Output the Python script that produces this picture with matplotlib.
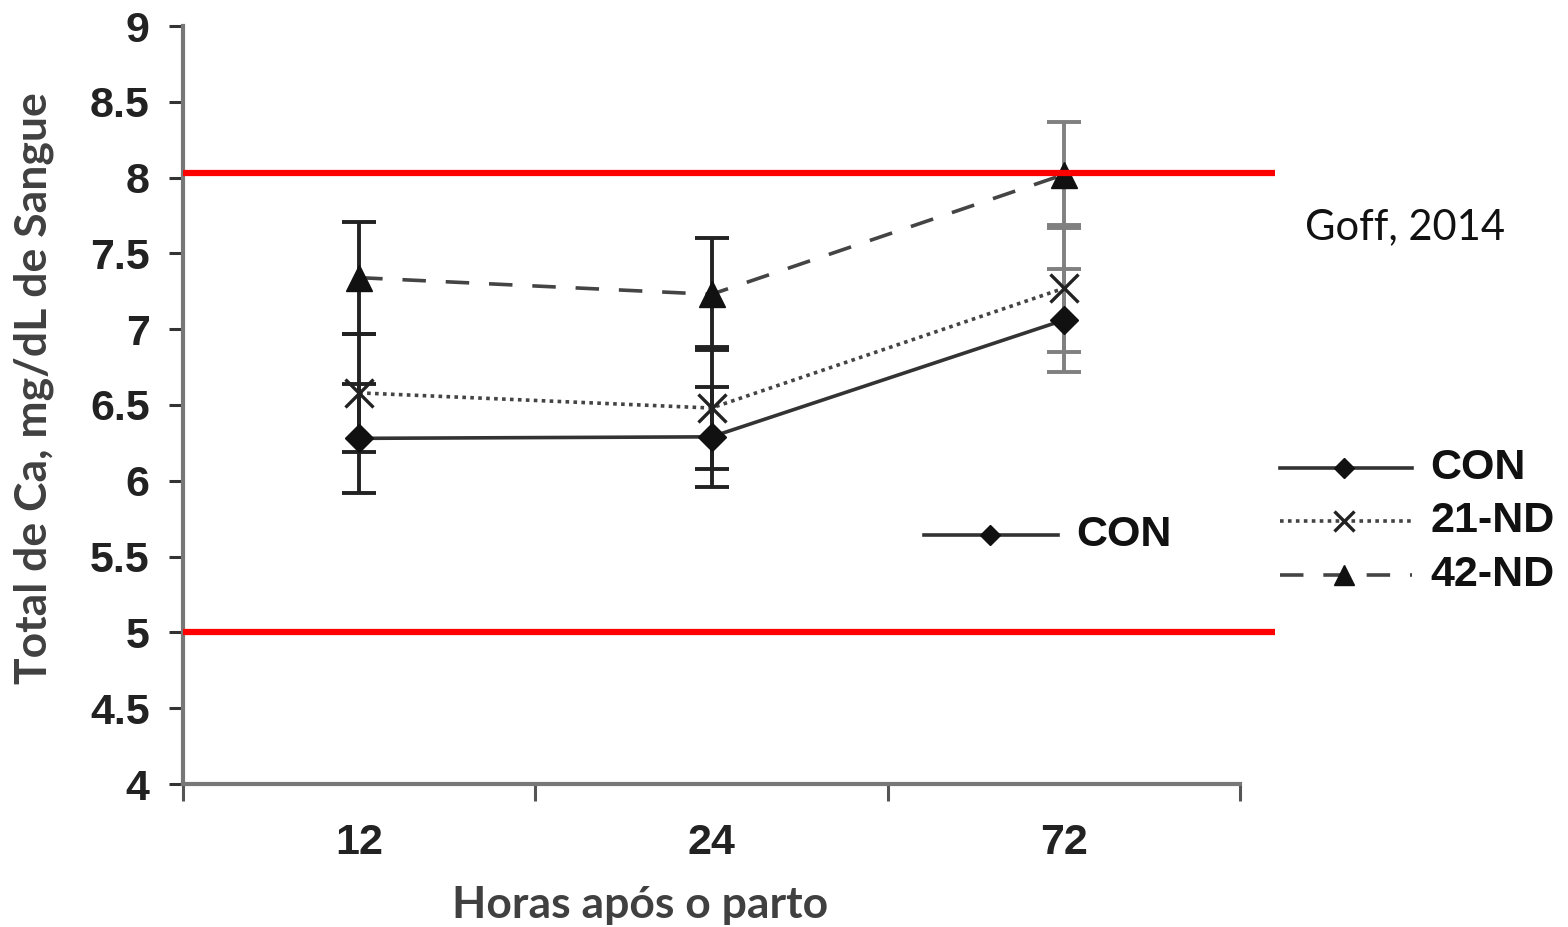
import matplotlib
matplotlib.use("Agg")
import matplotlib.pyplot as plt
from matplotlib.lines import Line2D

# Data
categories = ["12", "24", "72"]
series_names = ["CON", "21-ND", "42-ND"]
con_mean = [6.28, 6.29, 7.06]
con_err = [0.36, 0.33, 0.34]
nd21_mean = [6.58, 6.48, 7.27]
nd21_err = [0.39, 0.40, 0.42]
nd42_mean = [7.34, 7.23, 8.02]
nd42_err = [0.37, 0.37, 0.35]
ref_lines = [8.03, 5.0]
y_ticks = [4, 4.5, 5, 5.5, 6, 6.5, 7, 7.5, 8, 8.5, 9]
y_tick_labels = ["4", "4.5", "5", "5.5", "6", "6.5", "7", "7.5", "8", "8.5", "9"]

W, H = 1568, 927
fig = plt.figure(figsize=(W / 100, H / 100), dpi=100)
fig.patch.set_facecolor("white")

ax_l, ax_r, ax_t, ax_b = 183, 1240, 26, 784
ax = fig.add_axes([ax_l / W, 1 - ax_b / H, (ax_r - ax_l) / W, (ax_b - ax_t) / H])
ax.set_xlim(0, len(categories))
ax.set_ylim(4, 9)

xpos = [i + 0.5 for i in range(len(categories))]
err_cols = ["#222222", "#222222", "#808080"]

styles = [
    dict(mean=con_mean, err=con_err, ls="-", marker="D", ms=14, mfc="#111111", mec="#111111", mew=1, color="#333333", lw=2.6),
    dict(mean=nd21_mean, err=nd21_err, ls=(0, (1.0, 1.2)), marker="x", ms=20, mfc="none", mec="#222222", mew=2.4, color="#444444", lw=2.6),
    dict(mean=nd42_mean, err=nd42_err, ls=(0, (6.5, 5.5)), marker="^", ms=19, mfc="#111111", mec="#111111", mew=1, color="#444444", lw=2.6),
]

# error bars per point
for s in styles:
    for i, x in enumerate(xpos):
        ax.errorbar([x], [s["mean"][i]], yerr=[s["err"][i]], fmt="none",
                    ecolor=err_cols[i], elinewidth=2.8, capsize=12, capthick=2.8, zorder=2)

for s in styles:
    ax.plot(xpos, s["mean"], linestyle=s["ls"], color=s["color"], lw=s["lw"], zorder=3)
    ax.plot(xpos, s["mean"], linestyle="none", marker=s["marker"], ms=s["ms"],
            mfc=s["mfc"], mec=s["mec"], mew=s["mew"], zorder=4)

# reference lines
for yv in ref_lines:
    ax.plot([0, (1275 - ax_l) / (ax_r - ax_l)], [yv, yv], transform=ax.get_yaxis_transform(),
            color="#ff0000", lw=4.5, clip_on=False, zorder=5, solid_capstyle="butt")

# spines
for sp in ["top", "right"]:
    ax.spines[sp].set_visible(False)
for sp in ["left", "bottom"]:
    ax.spines[sp].set_color("#777777")
    ax.spines[sp].set_linewidth(3)
ax.spines["left"].set_bounds(4, 9)

ax.set_yticks(y_ticks)
ax.set_yticklabels(y_tick_labels, fontfamily="Liberation Sans", fontweight="bold", fontsize=31, color="#222222")
ax.tick_params(axis="y", length=10, width=2.2, color="#333333", pad=14)

ax.set_xticks(range(len(categories) + 1))
ax.set_xticklabels([""] * (len(categories) + 1))
ax.tick_params(axis="x", which="major", length=12, width=2.2, color="#555555", direction="out")
ax.set_xticks(xpos, minor=True)
ax.set_xticklabels(categories, minor=True, fontfamily="Liberation Sans",
                   fontweight="bold", fontsize=31, color="#222222")
ax.tick_params(axis="x", which="minor", length=0, pad=28)

# axis labels
fig.text(34 / W, 1 - 388 / H, "Total de Ca, mg/dL de Sangue", rotation=90, ha="center", va="center",
         fontfamily="Lato", fontweight="bold", fontsize=32, color="#404040")
fig.text(640 / W, 1 - 905 / H, "Horas após o parto", ha="center", va="center",
         fontfamily="Lato", fontweight="bold", fontsize=32, color="#404040")

fig.text(1405 / W, 1 - 227 / H, "Goff, 2014", ha="center", va="center",
         fontfamily="Lato", fontsize=30, color="#111111")

# right legend
leg_rows = [468, 521, 575]
for s, name, yy in zip(styles, series_names, leg_rows):
    yf = 1 - yy / H
    fig.add_artist(Line2D([1280 / W, 1412 / W], [yf, yf], linestyle=s["ls"], color=s["color"], lw=s["lw"]))
    fig.add_artist(Line2D([1344 / W], [yf], linestyle="none", marker=s["marker"], ms=s["ms"] * 0.75,
                          mfc=s["mfc"], mec=s["mec"], mew=s["mew"]))
    fig.text(1430 / W, yf, name, ha="left", va="center", fontfamily="Liberation Sans",
             fontweight="bold", fontsize=31, color="#111111")

# inner CON label
s = styles[0]
yf = 1 - 535 / H
fig.add_artist(Line2D([924 / W, 1058 / W], [yf, yf], linestyle=s["ls"], color=s["color"], lw=s["lw"]))
fig.add_artist(Line2D([990 / W], [yf], linestyle="none", marker="D", ms=10, mfc="#111111", mec="#111111"))
fig.text(1076 / W, yf, "CON", ha="left", va="center", fontfamily="Liberation Sans",
         fontweight="bold", fontsize=31, color="#111111")

fig.savefig("out.png", dpi=100, facecolor="white")
